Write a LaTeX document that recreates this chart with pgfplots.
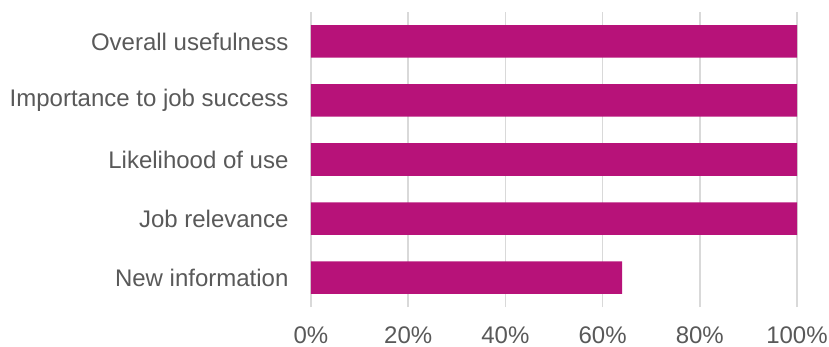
\documentclass[border=0pt]{standalone}
\usepackage{fontspec}
\setmainfont{Liberation Sans}
\usepackage{pgfplots}
\pgfplotsset{compat=1.18}
\definecolor{barc}{RGB}{183,18,121}
\definecolor{txt}{RGB}{89,89,89}
\definecolor{gridc}{RGB}{217,217,217}
\begin{document}
\begin{tikzpicture}
\path[use as bounding box] (-311bp,-40bp) rectangle (518bp,307bp);
\begin{axis}[
  at={(0,0)}, anchor=south west,
  scale only axis, width=486bp, height=295bp,
  xbar, bar width=32.5bp,
  xmin=0, xmax=100, ymin=-0.5, ymax=4.5,
  xtick={0,20,40,60,80,100},
  xticklabels={0\%,20\%,40\%,60\%,80\%,100\%},
  ytick={0,1,2,3,4},
  yticklabels={New information,Job relevance,Likelihood of use,Importance to job success,Overall usefulness},
  major tick length=0pt,
  axis line style={draw=none},
  xmajorgrids, grid style={gridc, line width=1.5bp},
  tick label style={font=\fontsize{24bp}{28bp}\selectfont, text=txt},
  xticklabel style={yshift=-16bp},
  yticklabel style={xshift=-19bp},
  clip=false,
]
\addplot[fill=barc, draw=none] coordinates {(64,0) (100,1) (100,2) (100,3) (100,4)};
\end{axis}
\end{tikzpicture}
\end{document}
